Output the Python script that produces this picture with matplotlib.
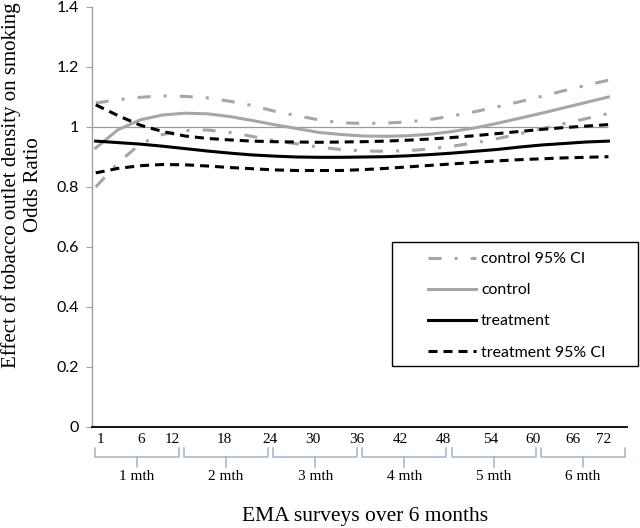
import matplotlib
matplotlib.use('Agg')
import matplotlib.pyplot as plt
import matplotlib.transforms as mtransforms
from matplotlib.patches import Rectangle
import numpy as np

plt.rcParams['lines.scale_dashes'] = False

# survey index (x) and odds ratio curves
surveys = [1, 4, 7, 10, 13, 16, 19, 22, 25, 28, 31, 34, 37, 40, 43, 46, 49, 52, 55, 58, 61, 64, 67, 70]
control_hi = [1.080, 1.091, 1.099, 1.104, 1.102, 1.097, 1.086, 1.072, 1.053, 1.038, 1.024, 1.014,
              1.012, 1.013, 1.017, 1.025, 1.037, 1.051, 1.067, 1.084, 1.102, 1.121, 1.139, 1.156]
control = [0.930, 0.991, 1.024, 1.040, 1.046, 1.044, 1.035, 1.022, 1.008, 0.995, 0.982, 0.975,
           0.970, 0.969, 0.971, 0.976, 0.985, 0.997, 1.012, 1.029, 1.046, 1.064, 1.082, 1.100]
control_lo = [0.800, 0.880, 0.944, 0.975, 0.988, 0.990, 0.982, 0.969, 0.955, 0.944, 0.933, 0.925,
              0.920, 0.919, 0.921, 0.927, 0.936, 0.947, 0.961, 0.977, 0.994, 1.011, 1.028, 1.045]
treatment = [0.953, 0.948, 0.943, 0.936, 0.928, 0.920, 0.913, 0.907, 0.903, 0.900, 0.899, 0.899,
             0.900, 0.901, 0.904, 0.908, 0.913, 0.919, 0.925, 0.933, 0.940, 0.945, 0.950, 0.953]
treatment_hi = [1.074, 1.038, 1.006, 0.985, 0.970, 0.962, 0.957, 0.953, 0.951, 0.950, 0.949, 0.950,
                0.951, 0.953, 0.956, 0.960, 0.965, 0.971, 0.978, 0.985, 0.992, 0.998, 1.003, 1.008]
treatment_lo = [0.847, 0.862, 0.871, 0.875, 0.874, 0.870, 0.865, 0.861, 0.857, 0.855, 0.855, 0.855,
                0.858, 0.862, 0.867, 0.872, 0.877, 0.882, 0.887, 0.891, 0.894, 0.897, 0.899, 0.901]

x_tick_labels = ['1', '6', '12', '18', '24', '30', '36', '42', '48', '54', '60', '66', '72']
x_tick_pos = [1.7, 7.1, 11.3, 18.3, 24.5, 30.2, 36.2, 42.0, 47.8, 54.1, 59.9, 65.2, 69.4]
y_ticks = [0, 0.2, 0.4, 0.6, 0.8, 1.0, 1.2, 1.4]
y_tick_labels = ['0', '0.2', '0.4', '0.6', '0.8', '1', '1.2', '1.4']
months = ['1 mth', '2 mth', '3 mth', '4 mth', '5 mth', '6 mth']

GREY = '#a6a6a6'
BLUE = '#9db4cf'
SERIF = 'Liberation Serif'
SANS = 'Lato'

fig = plt.figure(figsize=(6.4, 5.28), dpi=100)
ax = fig.add_axes([92/640, 1-427/528, 535/640, 420/528])
ax.set_xlim(0.5, 72.5)
ax.set_ylim(0, 1.4)

ax.hlines(1.0, 0.5, 70, color='#9a9a9a', lw=0.9, zorder=1)
dashdot = (9.4, 9.4, 2.2, 9.4)
dash = (6.5, 4.3)
ax.plot(surveys, control_hi, color=GREY, lw=2.2, dashes=dashdot, label='control 95% CI')
ax.plot(surveys, control_lo, color=GREY, lw=2.2, dashes=dashdot)
ax.plot(surveys, control, color=GREY, lw=2.2, label='control')
ax.plot(surveys, treatment, color='black', lw=2.2, label='treatment')
ax.plot(surveys, treatment_hi, color='black', lw=2.2, dashes=dash, label='treatment 95% CI')
ax.plot(surveys, treatment_lo, color='black', lw=2.2, dashes=dash)

for s in ['top', 'right']:
    ax.spines[s].set_visible(False)
ax.spines['left'].set_color('#a0a0a0')
ax.spines['left'].set_linewidth(1.0)
ax.spines['bottom'].set_color('black')
ax.spines['bottom'].set_linewidth(1.3)

ax.set_yticks(y_ticks, y_tick_labels, fontfamily=SANS, fontsize=11.5)
ax.tick_params(axis='y', direction='out', length=4.3, width=0.8, color='#a0a0a0', pad=5)
ax.set_xticks(x_tick_pos, x_tick_labels, fontfamily=SERIF, fontsize=11)
ax.tick_params(axis='x', length=0, pad=4)

# month brackets under the axis
trans = mtransforms.blended_transform_factory(ax.transData, ax.transAxes)
for i, m in enumerate(months):
    s = 12*i + 0.9
    e = 12*i + 12.2
    mid = (s + e) / 2
    ax.plot([s, s, e, e], [-0.05, -0.0714, -0.0714, -0.05], transform=trans,
            clip_on=False, color=BLUE, lw=1.1)
    ax.plot([mid, mid], [-0.0714, -0.095], transform=trans, clip_on=False, color=BLUE, lw=1.1)
    ax.text(mid, -0.119, m, transform=trans, ha='center', va='center',
            fontfamily=SERIF, fontsize=11)

fig.text(22/640, 1-185/528, 'Effect of tobacco outlet density on smoking\nOdds Ratio',
         rotation=90, ha='center', va='center', multialignment='center',
         fontfamily=SERIF, fontsize=15, linespacing=1.15)
fig.text(365/640, 1-517/528, 'EMA surveys over 6 months', ha='center', va='center',
         fontfamily=SERIF, fontsize=15.5)

ax.legend(loc='upper left', bbox_to_anchor=(428/640, 1-252/528), bbox_transform=fig.transFigure,
          frameon=False, borderpad=0, borderaxespad=0, handlelength=3.05, handletextpad=0.3,
          labelspacing=1.08, prop={'family': SANS, 'size': 11.4})
fig.add_artist(Rectangle((392/640, 1-366/528), (638-392)/640, (366-242)/528,
                         transform=fig.transFigure, fill=False, ec='black', lw=1.0))

fig.savefig('out.png', dpi=100)
